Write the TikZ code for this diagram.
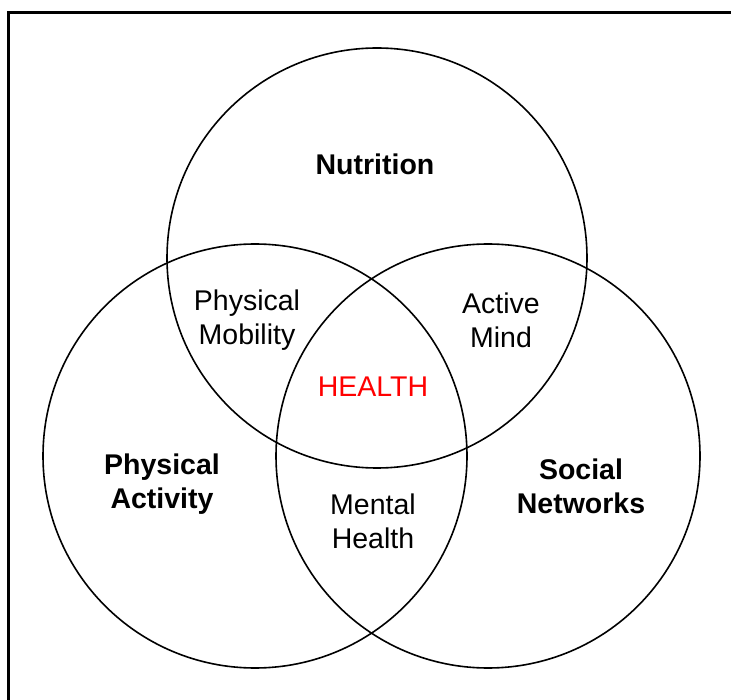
\documentclass[tikz,border=0pt]{standalone}
\usepackage{fontspec}
\setmainfont{Liberation Sans}
\usetikzlibrary{positioning}
\tikzstyle{set} = [circle, draw=black, line width=1.6pt, minimum size=422pt, inner sep=0pt]
\tikzstyle{mainlabel} = [align=center, font=\fontsize{28.5}{34}\selectfont\bfseries]
\tikzstyle{overlap} = [align=center, font=\fontsize{28.5}{34}\selectfont]
\tikzstyle{core} = [overlap, text=red]

\begin{document}
\begin{tikzpicture}[x=1pt, y=-1pt]
\useasboundingbox (0,0) rectangle (731,700);
\draw [line width=3pt] (8,13) rectangle (745,715);
  % Define the circles
\node (nutri) [set, minimum size=420pt] at (377,258) {};
\node (activ) [set, minimum size=424pt] at (255,456) {};
\node (social) [set, minimum size=424pt] at (488,456) {};

% Labels
\node (nutrilbl) [mainlabel] at (375,164) {Nutrition};
\node (activlbl) [mainlabel] at (162,484) {Physical\\Activity};
\node (sociallbl) [mainlabel] at (581,486) {Social\\Networks};
\node (mobility) [overlap] at (247,320) {Physical\\Mobility};
\node (mind) [overlap] at (501,320) {Active\\Mind};
\node (mental) [overlap] at (373,521) {Mental\\Health};
\node (health) [core] at (373,387) {HEALTH};

\end{tikzpicture}
\end{document}
